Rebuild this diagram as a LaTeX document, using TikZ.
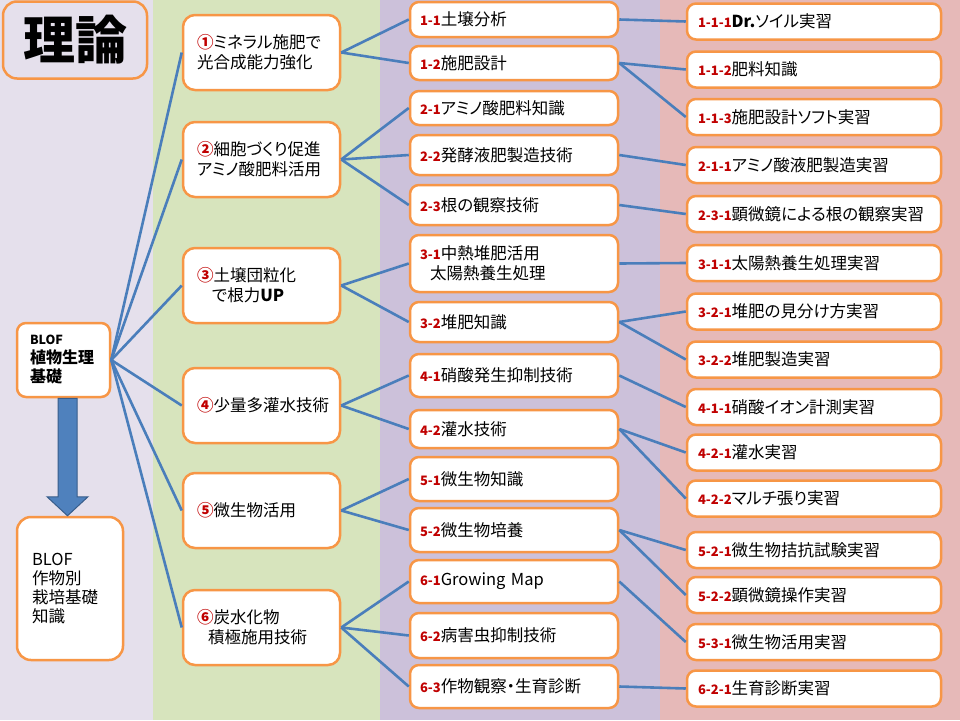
\documentclass[tikz,border=0pt]{standalone}
\usepackage{fontspec}
\setmainfont{Noto Sans CJK JP}[RawFeature=+palt]
\usetikzlibrary{calc}
\definecolor{bandA}{HTML}{E5E0EC}
\definecolor{bandB}{HTML}{D7E4BD}
\definecolor{bandC}{HTML}{CCC1DA}
\definecolor{bandD}{HTML}{E6B9B8}
\definecolor{boxline}{HTML}{F79646}
\definecolor{conn}{HTML}{4A7EBB}
\definecolor{numred}{HTML}{C00000}
\definecolor{arrowfill}{HTML}{4F81BD}
\definecolor{arrowline}{HTML}{385D8A}
\newcommand\lab[1]{{\fontsize{13}{13}\selectfont\bfseries\color{numred}#1}}
\newcommand\cn[1]{\textcolor{numred}{\bfseries #1}}
\begin{document}
\begin{tikzpicture}[x=1pt,y=-1pt,
  box/.style={draw=boxline, line width=2.5pt, fill=white, rounded corners=9pt, align=left, font=\fontsize{16.5}{20}\selectfont, inner ysep=0pt},
  c2/.style={box, rounded corners=12pt, text width=129pt, inner xsep=14pt, minimum height=75pt},
  c3/.style={box, text width=188pt, inner xsep=10pt},
  c4/.style={box, text width=232pt, inner xsep=11pt, minimum height=36pt},
  link/.style={draw=conn, line width=2.6pt},
  bigarrow/.style={fill=arrowfill, draw=arrowline, line width=1pt},
]
\useasboundingbox (0,0) rectangle (960,720);
\fill[bandA] (0,0) rectangle (153,720);
\fill[bandB] (153,0) rectangle (380,720);
\fill[bandC] (380,0) rectangle (660,720);
\fill[bandD] (660,0) rectangle (960,720);

% left column
\node[box, rounded corners=14pt, fill=bandA, minimum width=144pt, minimum height=77pt, align=center, font=\fontsize{52}{52}\selectfont\bfseries] (title) at (75,40) {理論};
\node[box, text width=67pt, inner xsep=13pt, minimum height=74pt, font=\fontsize{16}{19}\selectfont\bfseries] (b1) at (63.5,360) {{\fontsize{12.5}{19}\selectfont BLOF}\\植物生理\\基礎};
\node[box, rounded corners=14pt, text width=76pt, inner xsep=15pt, minimum height=143pt, font=\fontsize{16.5}{19}\selectfont] (b2) at (70,588.5) {BLOF\\作物別\\栽培基礎\\知識};

% second column
\node[c2] (m1) at (261.5,52.5) {\cn{①}ミネラル施肥で\\光合成能力強化};
\node[c2] (m2) at (261.5,159.5) {\cn{②}細胞づくり促進\\アミノ酸肥料活用};
\node[c2] (m3) at (261.5,285.5) {\cn{③}土壌団粒化\\\hspace*{15pt}で根力\textbf{UP}};
\node[c2] (m4) at (261.5,405.5) {\cn{④}少量多灌水技術};
\node[c2] (m5) at (261.5,510.5) {\cn{⑤}微生物活用};
\node[c2] (m6) at (261.5,627.5) {\cn{⑥}炭水化物\\\hspace*{11pt}積極施用技術};

% third column
\node[c3, minimum height=35pt] (s11) at (514,19.5) {\lab{1-1}土壌分析};
\node[c3, minimum height=34pt] (s12) at (514,63) {\lab{1-2}施肥設計};
\node[c3, minimum height=34pt] (s21) at (514,108) {\lab{2-1}アミノ酸肥料知識};
\node[c3, minimum height=40pt] (s22) at (514,155) {\lab{2-2}発酵液肥製造技術};
\node[c3, minimum height=40pt] (s23) at (514,205) {\lab{2-3}根の観察技術};
\node[c3, minimum height=57pt] (s31) at (514,263.5) {\lab{3-1}中熱堆肥活用\\\hspace*{10pt}太陽熱養生処理};
\node[c3, minimum height=40pt] (s32) at (514,322) {\lab{3-2}堆肥知識};
\node[c3, minimum height=43pt] (s41) at (514,375.5) {\lab{4-1}硝酸発生抑制技術};
\node[c3, minimum height=38pt] (s42) at (514,429) {\lab{4-2}灌水技術};
\node[c3, minimum height=44pt] (s51) at (514,479) {\lab{5-1}微生物知識};
\node[c3, minimum height=44pt] (s52) at (514,530) {\lab{5-2}微生物培養};
\node[c3, minimum height=43pt] (s61) at (514,581.5) {\lab{6-1}Growing Map};
\node[c3, minimum height=45pt] (s62) at (514,635.5) {\lab{6-2}病害虫抑制技術};
\node[c3, minimum height=43pt] (s63) at (514,686.5) {\lab{6-3}作物観察・生育診断};

% fourth column
\node[c4] (t111) at (814,21.5) {\lab{1-1-1}\textbf{Dr.}ソイル実習};
\node[c4] (t112) at (814,69.5) {\lab{1-1-2}肥料知識};
\node[c4] (t113) at (814,117) {\lab{1-1-3}施肥設計ソフト実習};
\node[c4] (t211) at (814,165) {\lab{2-1-1}アミノ酸液肥製造実習};
\node[c4] (t231) at (814,214) {\lab{2-3-1}顕微鏡による根の観察実習};
\node[c4] (t311) at (814,263) {\lab{3-1-1}太陽熱養生処理実習};
\node[c4] (t321) at (814,311.5) {\lab{3-2-1}堆肥の見分け方実習};
\node[c4] (t322) at (814,359.5) {\lab{3-2-2}堆肥製造実習};
\node[c4] (t411) at (814,407) {\lab{4-1-1}硝酸イオン計測実習};
\node[c4] (t421) at (814,452.5) {\lab{4-2-1}灌水実習};
\node[c4] (t422) at (814,498.5) {\lab{4-2-2}マルチ張り実習};
\node[c4] (t521) at (814,550) {\lab{5-2-1}微生物拮抗試験実習};
\node[c4] (t522) at (814,595) {\lab{5-2-2}顕微鏡操作実習};
\node[c4] (t531) at (814,642) {\lab{5-3-1}微生物活用実習};
\node[c4] (t621) at (814,688.5) {\lab{6-2-1}生育診断実習};

% connectors
\foreach \m in {m1,m2,m3,m4,m5,m6} \draw[link] (b1.east) -- (\m.west);
\foreach \a/\b in {m1/s11,m1/s12,m2/s21,m2/s22,m2/s23,m3/s31,m3/s32,m4/s41,m4/s42,m5/s51,m5/s52,m6/s61,m6/s62,m6/s63}
  \draw[link] (\a.east) -- (\b.west);
\foreach \a/\b in {s11/t111,s12/t112,s12/t113,s22/t211,s23/t231,s31/t311,s32/t321,s32/t322,s41/t411,s42/t421,s42/t422,s52/t521,s52/t522,s61/t531,s63/t621}
  \draw[link] (\a.east) -- (\b.west);

% big arrow
\path (b1.south) ++(4,0) coordinate (atop);
\path (b2.north) ++(-2.5,0) coordinate (atip);
\filldraw[bigarrow] ($(atop)+(-9.5,0)$) -- ($(atop)+(9.5,0)$) -- ($(atip)+(9.5,-19)$) -- ($(atip)+(20.5,-19)$) -- (atip) -- ($(atip)+(-20.5,-19)$) -- ($(atip)+(-9.5,-19)$) -- cycle;
\end{tikzpicture}
\end{document}
